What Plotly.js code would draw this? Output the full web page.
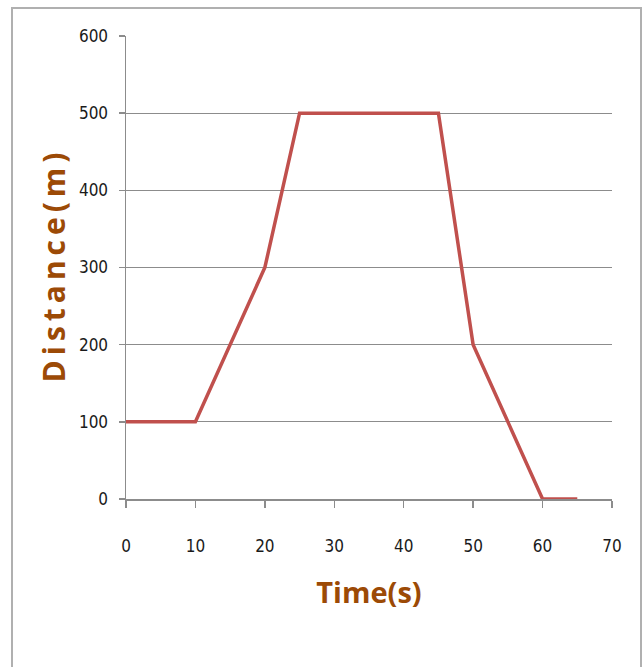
<!DOCTYPE html>
<html><head><meta charset="utf-8">
<script src="https://cdn.plot.ly/plotly-3.0.1.min.js"></script>
<style>
html,body{margin:0;padding:0;background:#fff;overflow:hidden}
#frame{position:absolute;left:11px;top:7px;width:627px;height:680px;border:2px solid #b0b0b0;}
#chart{position:absolute;left:0;top:0;width:642px;height:667px;}
</style></head>
<body>
<div id="frame"></div>
<div id="chart"></div>
<script>
const timeS = [0, 10, 20, 25, 45, 50, 60, 65];
const distanceM = [100, 100, 300, 500, 500, 200, 0, 0];
const xTicks = [0, 10, 20, 30, 40, 50, 60, 70];
const yTicks = [0, 100, 200, 300, 400, 500, 600];

const tickFont = {family: "'DejaVu Sans Condensed', 'Open Sans', sans-serif", size: 17, color: '#1a1a1a'};
const titleColor = '#9C4A06';

Plotly.newPlot('chart', [{
  x: timeS, y: distanceM, type: 'scatter', mode: 'lines',
  line: {color: '#C0504D', width: 3.5}, hoverinfo: 'skip'
}], {
  width: 642, height: 667,
  paper_bgcolor: 'rgba(0,0,0,0)', plot_bgcolor: 'rgba(0,0,0,0)',
  margin: {l: 126, r: 30, t: 36, b: 168},
  showlegend: false,
  xaxis: {
    range: [0, 70], tickvals: xTicks, ticktext: xTicks.map(String),
    showgrid: false, zeroline: false, showline: true, linecolor: '#8c8c8c', linewidth: 1.5,
    ticks: 'outside', ticklen: 7, tickcolor: '#8c8c8c', tickwidth: 1.5,
    tickfont: tickFont, ticklabelstandoff: 24,
    title: {text: 'Time(s)', font: {family: "'Open Sans', 'DejaVu Sans Condensed', sans-serif", size: 29, color: titleColor, weight: 'bold'}, standoff: 28}
  },
  yaxis: {
    range: [0, 600], tickvals: yTicks, ticktext: yTicks.map(String),
    showgrid: true, gridcolor: '#8c8c8c', gridwidth: 1.2, zeroline: false,
    showline: true, linecolor: '#8c8c8c', linewidth: 1.5,
    ticks: 'outside', ticklen: 6, tickcolor: '#8c8c8c', tickwidth: 1.5,
    tickfont: tickFont, ticklabelstandoff: 7,
    title: {text: 'D\u2009i\u2009s\u2009t\u2009a\u2009n\u2009c\u2009e\u2009(\u2009m\u2009)', font: {family: "'Open Sans', 'DejaVu Sans', sans-serif", size: 30, color: titleColor, weight: 'bold'}, standoff: 4}
  }
}, {staticPlot: true});
</script>
</body></html>
